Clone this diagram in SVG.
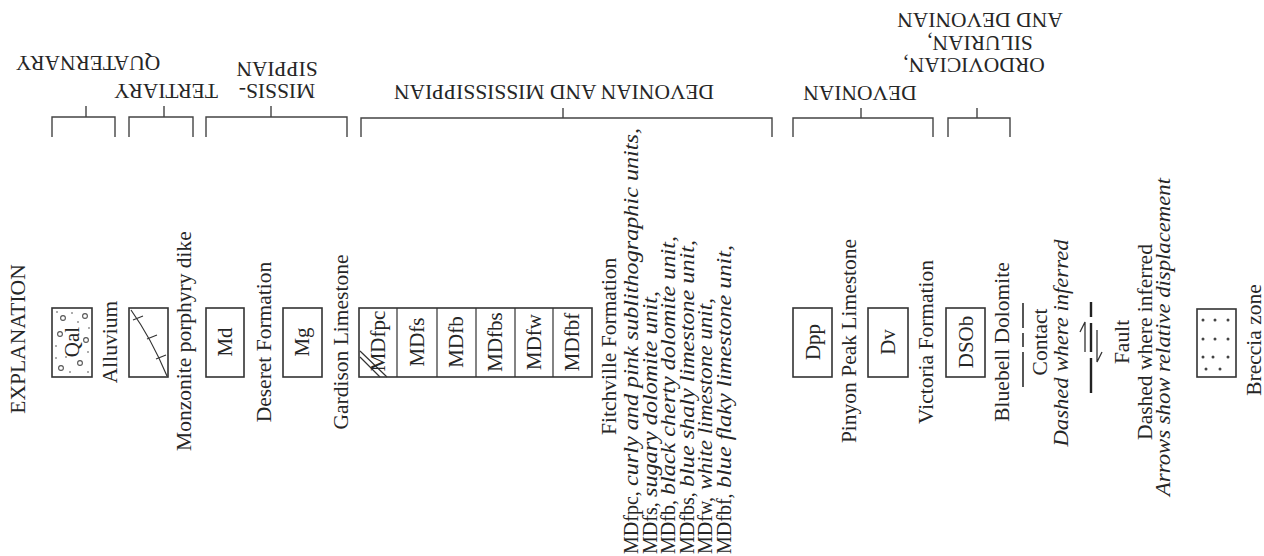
<svg xmlns="http://www.w3.org/2000/svg" width="1264" height="556" viewBox="0 0 1264 556">
<style>
text{font-family:"Liberation Serif","Times New Roman",serif;fill:#262626;font-size:21.5px}
.m{text-anchor:middle}
.s{text-anchor:start}
.i{font-style:italic}
.lst{font-size:20px}
.lbl{font-size:21px;text-anchor:middle}
.box{fill:#fff;stroke:#333;stroke-width:1.6}
.br{fill:none;stroke:#444;stroke-width:1.4}
.thin{fill:none;stroke:#333;stroke-width:1.2}
.pebble{fill:none;stroke:#555;stroke-width:1.1}
.dot{fill:#444}
</style>
<rect width="1264" height="556" fill="#fff"/>

<g id="brackets">
  <path class="br" d="M52,137 V117 H115 V137 M86,117 V106"/>
  <path class="br" d="M129,137 V117 H193 V137 M164,117 V106"/>
  <path class="br" d="M206,137 V117 H347 V137 M271,117 V106"/>
  <path class="br" d="M361,137 V118 H772 V137 M563,118 V108"/>
  <path class="br" d="M793,137 V118 H933 V137 M861,118 V108"/>
  <path class="br" d="M948,137 V118 H1010 V137 M977,118 V108"/>
</g>

<g id="headers">
  <text class="m" transform="translate(88,56) rotate(180)">QUATERNARY</text>
  <text class="m" transform="translate(166,84) rotate(180)">TERTIARY</text>
  <text class="m" transform="translate(277,84) rotate(180)">MISSIS-</text>
  <text class="m" transform="translate(277,62) rotate(180)">SIPPIAN</text>
  <text class="m" transform="translate(554,85) rotate(180)">DEVONIAN AND MISSISSIPPIAN</text>
  <text class="m" transform="translate(860,86) rotate(180)">DEVONIAN</text>
  <text class="m" transform="translate(974,58) rotate(180)">ORDOVICIAN,</text>
  <text class="m" transform="translate(980,36) rotate(180)">SILURIAN,</text>
  <text class="m" transform="translate(980,13) rotate(180)">AND DEVONIAN</text>
</g>

<g id="title">
  <text class="m" transform="translate(25,339) rotate(-90)">EXPLANATION</text>
</g>

<g id="qal">
  <rect class="box" x="52" y="308" width="40" height="69"/>
  <circle class="pebble" cx="63" cy="318" r="2.4"/>
  <circle class="pebble" cx="85" cy="316" r="2.4"/>
  <circle class="pebble" cx="60" cy="334" r="2.4"/>
  <circle class="pebble" cx="86" cy="340" r="2.4"/>
  <circle class="pebble" cx="80" cy="363" r="2.4"/>
  <circle class="pebble" cx="61" cy="368" r="2.4"/>
  <circle class="dot" cx="57" cy="312" r="0.8"/>
  <circle class="dot" cx="72" cy="313" r="0.8"/>
  <circle class="dot" cx="78" cy="322" r="0.8"/>
  <circle class="dot" cx="56" cy="346" r="0.8"/>
  <circle class="dot" cx="88" cy="352" r="0.8"/>
  <circle class="dot" cx="66" cy="357" r="0.8"/>
  <circle class="dot" cx="89" cy="328" r="0.8"/>
  <circle class="dot" cx="56" cy="358" r="0.8"/>
  <circle class="dot" cx="88" cy="372" r="0.8"/>
  <circle class="dot" cx="70" cy="372" r="0.8"/>
  <text class="lbl" transform="translate(79,342) rotate(-90)">Qal</text>
  <text class="m" transform="translate(117,342) rotate(-90)">Alluvium</text>
</g>

<g id="dike">
  <rect class="box" x="129" y="308" width="39" height="69"/>
  <path class="thin" d="M131,310 Q151,338 167,376"/>
  <path class="thin" d="M133,320 L143,316 M147,339 L157,335 M156,359 L166,355"/>
  <text class="m" transform="translate(191,341) rotate(-90)">Monzonite porphyry dike</text>
</g>

<g id="md">
  <rect class="box" x="206" y="308" width="38" height="69"/>
  <text class="lbl" transform="translate(232,342) rotate(-90)">Md</text>
  <text class="m" transform="translate(271,342) rotate(-90)">Deseret Formation</text>
</g>

<g id="mg">
  <rect class="box" x="283" y="308" width="39" height="69"/>
  <text class="lbl" transform="translate(309,342) rotate(-90)">Mg</text>
  <text class="m" transform="translate(348,342) rotate(-90)">Gardison Limestone</text>
</g>

<g id="fitchville">
  <rect class="box" x="359" y="308" width="233" height="69"/>
  <path class="thin" d="M397,308 V377 M437,308 V377 M476,308 V377 M515,308 V377 M553,308 V377"/>
  <path class="thin" d="M360,351 L387,377 M360,357 L380,377"/>
  <text class="lbl" transform="translate(385,341) rotate(-90)">MDfpc</text>
  <text class="lbl" transform="translate(424,342) rotate(-90)">MDfs</text>
  <text class="lbl" transform="translate(463,342) rotate(-90)">MDfb</text>
  <text class="lbl" transform="translate(502,342) rotate(-90)">MDfbs</text>
  <text class="lbl" transform="translate(541,342) rotate(-90)">MDfw</text>
  <text class="lbl" transform="translate(579,342) rotate(-90)">MDfbf</text>
  <text class="s" transform="translate(616,435) rotate(-90)">Fitchville Formation</text>
  <text class="s lst" transform="translate(638,554) rotate(-90)">MDfpc,</text>
  <text class="s lst i" transform="translate(638,486) rotate(-90)" textLength="358" lengthAdjust="spacingAndGlyphs">curly and pink sublithographic units,</text>
  <text class="s lst" transform="translate(656.5,554) rotate(-90)">MDfs,</text>
  <text class="s lst i" transform="translate(656.5,497) rotate(-90)" textLength="206" lengthAdjust="spacingAndGlyphs">sugary dolomite unit,</text>
  <text class="s lst" transform="translate(675,554) rotate(-90)">MDfb,</text>
  <text class="s lst i" transform="translate(675,495) rotate(-90)" textLength="259" lengthAdjust="spacingAndGlyphs">black cherty dolomite unit,</text>
  <text class="s lst" transform="translate(693.5,554) rotate(-90)">MDfbs,</text>
  <text class="s lst i" transform="translate(693.5,487) rotate(-90)" textLength="247" lengthAdjust="spacingAndGlyphs">blue shaly limestone unit,</text>
  <text class="s lst" transform="translate(712,554) rotate(-90)">MDfw,</text>
  <text class="s lst i" transform="translate(712,490) rotate(-90)" textLength="192" lengthAdjust="spacingAndGlyphs">white limestone unit,</text>
  <text class="s lst" transform="translate(730.5,554) rotate(-90)">MDfbf,</text>
  <text class="s lst i" transform="translate(730.5,488) rotate(-90)" textLength="243" lengthAdjust="spacingAndGlyphs">blue flaky limestone unit,</text>
</g>

<g id="dpp">
  <rect class="box" x="793" y="308" width="39" height="69"/>
  <text class="lbl" transform="translate(819.5,342) rotate(-90)">Dpp</text>
  <text class="m" transform="translate(856,341) rotate(-90)">Pinyon Peak Limestone</text>
</g>

<g id="dv">
  <rect class="box" x="868" y="308" width="40" height="69"/>
  <text class="lbl" transform="translate(895,342) rotate(-90)">Dv</text>
  <text class="m" transform="translate(933,342) rotate(-90)">Victoria Formation</text>
</g>

<g id="dsob">
  <rect class="box" x="946" y="308" width="39" height="69"/>
  <text class="lbl" transform="translate(972.5,342) rotate(-90)">DSOb</text>
  <text class="m" transform="translate(1009,342) rotate(-90)">Bluebell Dolomite</text>
</g>

<g id="contact">
  <path fill="none" stroke="#444" stroke-width="1.8" d="M1023,387 V352 M1023,347 V333 M1023,328 V303"/>
  <text class="m" transform="translate(1047,342) rotate(-90)">Contact</text>
  <text class="m i" transform="translate(1068,343) rotate(-90)" textLength="207" lengthAdjust="spacingAndGlyphs">Dashed where inferred</text>
</g>

<g id="fault">
  <path fill="none" stroke="#222" stroke-width="2.4" d="M1091,302 V317 M1091,323 V352 M1091,358 V393"/>
  <path fill="none" stroke="#333" stroke-width="1.3" d="M1085,352 V322 L1080,332 M1097,330 V362 L1102,352"/>
  <text class="m" transform="translate(1129,342) rotate(-90)">Fault</text>
  <text class="m" transform="translate(1152,342) rotate(-90)">Dashed where inferred</text>
  <text class="m i" transform="translate(1170,337) rotate(-90)" textLength="318" lengthAdjust="spacingAndGlyphs">Arrows show relative displacement</text>
</g>

<g id="breccia">
  <rect class="box" x="1197" y="309" width="39" height="68"/>
  <circle class="dot" cx="1203" cy="320" r="1.5"/>
  <circle class="dot" cx="1215" cy="320" r="1.5"/>
  <circle class="dot" cx="1228" cy="320" r="1.5"/>
  <circle class="dot" cx="1203" cy="339" r="1.5"/>
  <circle class="dot" cx="1215" cy="339" r="1.5"/>
  <circle class="dot" cx="1228" cy="339" r="1.5"/>
  <circle class="dot" cx="1203" cy="357" r="1.5"/>
  <circle class="dot" cx="1213" cy="357" r="1.5"/>
  <circle class="dot" cx="1228" cy="357" r="1.5"/>
  <circle class="dot" cx="1206" cy="369" r="1.5"/>
  <circle class="dot" cx="1220" cy="369" r="1.5"/>
  <text class="m" transform="translate(1261,340) rotate(-90)">Breccia zone</text>
</g>
</svg>
